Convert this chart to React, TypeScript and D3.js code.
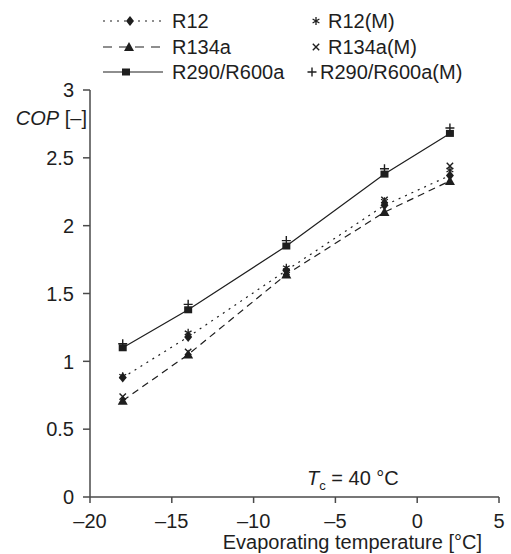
import React from "react";
import * as d3 from "d3";

const temps = [-18, -14, -8, -2, 2];
const r12 = [0.88, 1.18, 1.67, 2.15, 2.37];
const r134a = [0.71, 1.05, 1.64, 2.1, 2.33];
const r290 = [1.1, 1.38, 1.85, 2.38, 2.68];
const r12M = [0.89, 1.21, 1.69, 2.18, 2.41];
const r134aM = [0.74, 1.07, 1.66, 2.19, 2.44];
const r290M = [1.13, 1.42, 1.89, 2.42, 2.72];
const xTicks = [-20, -15, -10, -5, 0, 5];
const yTicks = [0, 0.5, 1, 1.5, 2, 2.5, 3];

const FONT = "'Liberation Sans', Arial, Helvetica, sans-serif";
const INK = "#1e1e1e";
const AX = "#4a4a4a";

const x = d3.scaleLinear().domain([-20, 5]).range([90, 499]);
const y = d3.scaleLinear().domain([0, 3]).range([497, 90]);

const fmt = (v: number) => (v < 0 ? "\u2013" + Math.abs(v) : String(v));

function Diamond({ cx, cy }: { cx: number; cy: number }) {
  return <path d={`M${cx},${cy - 5}L${cx + 4},${cy}L${cx},${cy + 5}L${cx - 4},${cy}Z`} fill={INK} />;
}
function Triangle({ cx, cy }: { cx: number; cy: number }) {
  return <path d={`M${cx},${cy - 5}L${cx + 5},${cy + 4}L${cx - 5},${cy + 4}Z`} fill={INK} />;
}
function Square({ cx, cy }: { cx: number; cy: number }) {
  return <rect x={cx - 4} y={cy - 3.5} width={8} height={7} fill={INK} />;
}
function Star({ cx, cy }: { cx: number; cy: number }) {
  const s = 4;
  return (
    <path
      d={`M${cx},${cy - s}V${cy + s}M${cx - s * 0.85},${cy - s * 0.5}L${cx + s * 0.85},${cy + s * 0.5}M${cx - s * 0.85},${cy + s * 0.5}L${cx + s * 0.85},${cy - s * 0.5}`}
      stroke={INK}
      strokeWidth={1.3}
      fill="none"
    />
  );
}
function Cross({ cx, cy }: { cx: number; cy: number }) {
  const s = 3.2;
  return (
    <path
      d={`M${cx - s},${cy - s}L${cx + s},${cy + s}M${cx - s},${cy + s}L${cx + s},${cy - s}`}
      stroke={INK}
      strokeWidth={1.4}
      fill="none"
    />
  );
}
function Plus({ cx, cy }: { cx: number; cy: number }) {
  const s = 4.5;
  return (
    <path
      d={`M${cx - s},${cy}H${cx + s}M${cx},${cy - s}V${cy + s}`}
      stroke={INK}
      strokeWidth={1.4}
      fill="none"
    />
  );
}

const line = d3
  .line<number>()
  .x((_, i) => x(temps[i]))
  .y((d) => y(d));

export default function App() {
  return (
    <svg
      width={511}
      height={554}
      style={{ position: "absolute", left: 0, top: 0, background: "#fff" }}
      fontFamily={FONT}
    >
      <rect width={511} height={554} fill="#fff" />
      {/* axes */}
      <line x1={90} x2={90} y1={y(3)} y2={y(0)} stroke={AX} strokeWidth={1.5} />
      <line x1={90} x2={499} y1={y(0)} y2={y(0)} stroke={AX} strokeWidth={1.5} />
      {yTicks.map((t) => (
        <g key={"y" + t}>
          <line x1={83} x2={90} y1={y(t)} y2={y(t)} stroke={AX} strokeWidth={1.5} />
          <text x={74} y={y(t)} dy="0.36em" textAnchor="end" fontSize={20} fill={INK}>
            {t}
          </text>
        </g>
      ))}
      {xTicks.map((t) => (
        <g key={"x" + t}>
          <line x1={x(t)} x2={x(t)} y1={y(0)} y2={y(0) + 6} stroke={AX} strokeWidth={1.5} />
          <text x={x(t)} y={528} textAnchor="middle" fontSize={20} fill={INK}>
            {fmt(t)}
          </text>
        </g>
      ))}
      <text x={482} y={549} textAnchor="end" fontSize={20} fill={INK}>
        Evaporating temperature [°C]
      </text>
      <text x={87} y={125} textAnchor="end" fontSize={20} fill={INK}>
        <tspan fontStyle="italic">COP</tspan> [–]
      </text>
      <text x={307} y={485} fontSize={20} fill={INK}>
        <tspan fontStyle="italic">T</tspan>
        <tspan fontSize={13} dy={5}>c</tspan>
        <tspan dy={-5}> = 40 °C</tspan>
      </text>

      {/* lines */}
      <path d={line(r12) || ""} fill="none" stroke={INK} strokeWidth={1.2} strokeDasharray="2,5" />
      <path d={line(r134a) || ""} fill="none" stroke={INK} strokeWidth={1.2} strokeDasharray="7,5" />
      <path d={line(r290) || ""} fill="none" stroke={INK} strokeWidth={1.2} />

      {temps.map((t, i) => (
        <g key={"m" + i}>
          <Diamond cx={x(t)} cy={y(r12[i])} />
          <Triangle cx={x(t)} cy={y(r134a[i])} />
          <Square cx={x(t)} cy={y(r290[i])} />
          <Star cx={x(t)} cy={y(r12M[i])} />
          <Cross cx={x(t)} cy={y(r134aM[i])} />
          <Plus cx={x(t)} cy={y(r290M[i])} />
        </g>
      ))}

      {/* legend */}
      <g>
        <line x1={103} x2={161} y1={21} y2={21} stroke={INK} strokeWidth={1.2} strokeDasharray="2,5" />
        <Diamond cx={130} cy={21} />
        <text x={172} y={28} fontSize={20} fill={INK}>R12</text>

        <line x1={103} x2={163} y1={47} y2={47} stroke={INK} strokeWidth={1.2} strokeDasharray="9,7" />
        <Triangle cx={129} cy={47} />
        <text x={172} y={54} fontSize={20} fill={INK}>R134a</text>

        <line x1={103} x2={163} y1={72} y2={72} stroke={INK} strokeWidth={1.2} />
        <Square cx={126} cy={72} />
        <text x={172} y={79} fontSize={20} fill={INK}>R290/R600a</text>

        <Star cx={316} cy={21} />
        <text x={328} y={28} fontSize={20} fill={INK}>R12(M)</text>
        <Cross cx={316} cy={47} />
        <text x={328} y={54} fontSize={20} fill={INK}>R134a(M)</text>
        <Plus cx={312} cy={72} />
        <text x={320} y={79} fontSize={20} fill={INK}>R290/R600a(M)</text>
      </g>
    </svg>
  );
}
